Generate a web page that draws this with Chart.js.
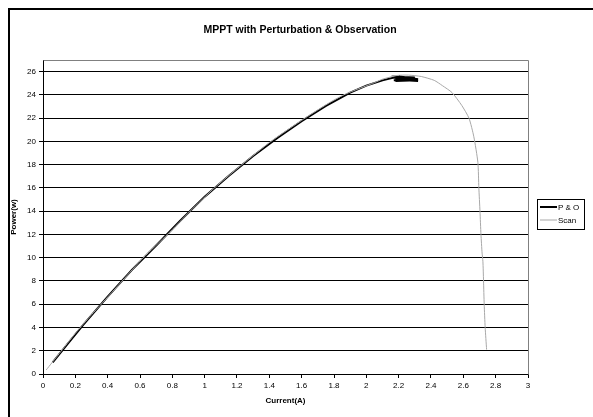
<!DOCTYPE html>
<html>
<head>
<meta charset="utf-8">
<script src="https://cdn.jsdelivr.net/npm/chart.js@4"></script>
<style>
    html, body { margin: 0; padding: 0; background: #fff; }
    #wrap { position: relative; width: 593px; height: 417px; overflow: hidden; }
    #frame { position: absolute; left: 8px; top: 8px; width: 700px; height: 500px; border-left: 2px solid #000; border-top: 2px solid #000; }
    canvas { position: absolute; left: 0; top: 0; }
</style>
</head>
<body>
<div id="wrap">
    <div id="frame"></div>
    <canvas id="chart-mppt" width="593" height="417"></canvas>
</div>
<script>
// MPPT P-I curves: perturb & observe trace vs full scan
const TITLE = 'MPPT with Perturbation & Observation';
const X_TITLE = 'Current(A)';
const Y_TITLE = 'Power(w)';

const scanCurrent = [0.02, 0.1, 0.2, 0.3, 0.36, 0.49, 0.62, 0.77, 0.91, 1.06, 1.23, 1.41, 1.62, 1.78, 1.86,
    1.92, 2.05, 2.1, 2.19, 2.26, 2.34, 2.42, 2.47, 2.53, 2.59, 2.635, 2.665, 2.69, 2.696, 2.703, 2.709,
    2.716, 2.721, 2.725, 2.729, 2.735, 2.744];
const scanPower = [0.35, 1.75, 3.5, 5.1, 6, 8, 10, 12, 14, 16, 18, 20, 22, 23.4, 24,
    24.35, 25.05, 25.35, 25.67, 25.7, 25.58, 25.25, 24.8, 24.2, 23.1, 22, 20.4, 18.2, 16, 14, 12,
    10.4, 9.7, 8, 6, 4, 2.1];

const poCurrent = [0.06, 0.15, 0.25, 0.4, 0.55, 0.7, 0.85, 1.0, 1.15, 1.3, 1.45, 1.6, 1.75, 1.9, 2.0, 2.1, 2.17,
    2.3, 2.18, 2.31, 2.2, 2.32, 2.19, 2.3, 2.21, 2.31, 2.18, 2.29, 2.17, 2.32, 2.2, 2.3];
const poPower = [1.0, 2.55, 4.25, 6.65, 8.95, 11.05, 13.2, 15.25, 17.05, 18.75, 20.3, 21.75, 23.05, 24.2, 24.8, 25.25, 25.5,
    25.35, 25.2, 25.25, 25.45, 25.2, 25.3, 25.5, 25.55, 25.2, 25.4, 25.45, 25.25, 25.35, 25.6, 25.25];

const seriesNames = ['P & O', 'Scan'];
const X_MIN = 0, X_MAX = 3, X_STEP = 0.2;
const Y_MIN = 0, Y_MAX = 27, Y_STEP = 2;

const FONT = 'Arial, "Liberation Sans", sans-serif';

const toPoints = (xs, ys) => xs.map((x, i) => ({ x, y: ys[i] }));

const frameAndTextPlugin = {
    id: 'mpptFrame',
    afterDraw(chart) {
        const { ctx: c, chartArea: a } = chart;
        c.save();
        // gray plot border on top and right
        c.strokeStyle = '#808080';
        c.lineWidth = 1;
        c.beginPath();
        c.moveTo(Math.round(a.left) + 0.5, Math.round(a.top) + 0.5);
        c.lineTo(Math.round(a.right) + 0.5, Math.round(a.top) + 0.5);
        c.lineTo(Math.round(a.right) + 0.5, Math.round(a.bottom) + 0.5);
        c.stroke();

        // title
        c.fillStyle = '#000';
        c.font = `bold 10.5px ${FONT}`;
        c.textAlign = 'center';
        c.textBaseline = 'middle';
        c.fillText(TITLE, 300, 30);

        // legend
        const lx = 537, ly = 199, lw = 47, lh = 30;
        c.fillStyle = '#fff';
        c.fillRect(lx, ly, lw, lh);
        c.strokeStyle = '#000';
        c.lineWidth = 1;
        c.strokeRect(lx + 0.5, ly + 0.5, lw, lh);
        c.font = `8px ${FONT}`;
        c.textAlign = 'left';
        chart.data.datasets.forEach((ds, i) => {
            const y = ly + 8 + i * 13;
            c.strokeStyle = ds.borderColor;
            c.lineWidth = ds.borderWidth;
            c.beginPath();
            c.moveTo(lx + 3, y);
            c.lineTo(lx + 20, y);
            c.stroke();
            c.fillStyle = '#000';
            c.fillText(ds.label, lx + 21, y + 0.5);
        });
        c.restore();
    },
};

new Chart(document.getElementById('chart-mppt').getContext('2d'), {
    type: 'line',
    data: {
        datasets: [
            {
                label: seriesNames[0],
                data: toPoints(poCurrent, poPower),
                borderColor: '#000000',
                borderWidth: 2,
                pointRadius: 0,
                tension: 0,
                order: 2,
            },
            {
                label: seriesNames[1],
                data: toPoints(scanCurrent, scanPower),
                borderColor: '#a8a8a8',
                borderWidth: 1,
                pointRadius: 0,
                tension: 0.2,
                order: 1,
            },
        ],
    },
    plugins: [frameAndTextPlugin],
    options: {
        responsive: false,
        animation: false,
        layout: { padding: { top: 60, right: 65, bottom: 0, left: 8 } },
        plugins: {
            legend: { display: false },
            tooltip: { enabled: false },
        },
        scales: {
            x: {
                type: 'linear',
                min: X_MIN,
                max: X_MAX,
                afterFit: s => { s.height = 43; },
                border: { color: '#000', width: 1 },
                grid: { drawOnChartArea: false, drawTicks: true, tickLength: 4, color: '#000' },
                ticks: {
                    stepSize: X_STEP,
                    autoSkip: false,
                    maxRotation: 0,
                    padding: 3,
                    color: '#000',
                    font: { family: FONT, size: 8 },
                    callback: v => String(Number(v.toFixed(1))),
                },
                title: {
                    display: true,
                    text: X_TITLE,
                    color: '#000',
                    font: { family: FONT, size: 8, weight: 'bold' },
                    padding: { top: 0, bottom: 11 },
                },
            },
            y: {
                type: 'linear',
                min: Y_MIN,
                max: Y_MAX,
                afterFit: s => { s.width = 35; },
                border: { color: '#000', width: 1 },
                grid: { color: '#000', tickLength: 4 },
                ticks: {
                    stepSize: Y_STEP,
                    includeBounds: false,
                    padding: 3,
                    color: '#000',
                    font: { family: FONT, size: 8 },
                },
                title: {
                    display: true,
                    text: Y_TITLE,
                    color: '#000',
                    font: { family: FONT, size: 8, weight: 'bold' },
                    padding: { top: 1, bottom: 0 },
                },
            },
        },
    },
});
</script>
</body>
</html>
